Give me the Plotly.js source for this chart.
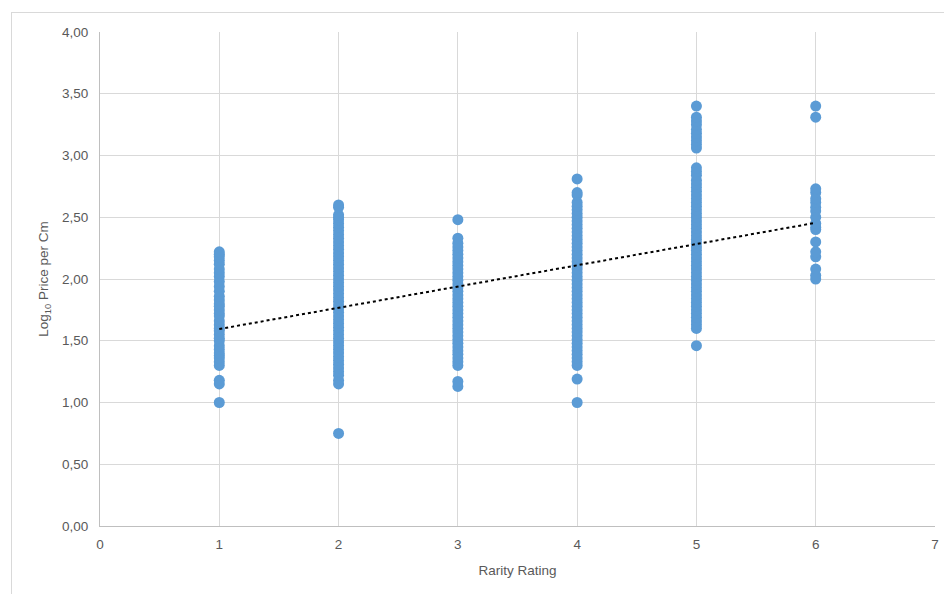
<!DOCTYPE html>
<html>
<head>
<meta charset="utf-8">
<script src="https://cdn.plot.ly/plotly-3.0.1.min.js"></script>
<style>
html,body{margin:0;padding:0;background:#fff;}
#wrap{position:relative;width:944px;height:594px;overflow:hidden;}
#frame{position:absolute;left:11px;top:12px;width:960px;height:620px;border:1px solid #d9d9d9;box-sizing:border-box;}
#chart{position:absolute;left:0;top:0;width:944px;height:594px;}
</style>
</head>
<body>
<div id="wrap"><div id="frame"></div><div id="chart"></div></div>
<script>
const rarity1 = [1.00, 1.15, 1.18, 1.30, 1.33, 1.36, 1.38, 1.40, 1.43, 1.46, 1.50, 1.52, 1.55, 1.58, 1.60, 1.63, 1.66, 1.70, 1.72, 1.75, 1.78, 1.80, 1.83, 1.86, 1.90, 1.94, 1.98, 2.02, 2.05, 2.08, 2.12, 2.15, 2.18, 2.20, 2.22];
const rarity2 = [0.75, 1.15, 1.18, 1.22, 1.25, 1.28, 1.31, 1.34, 1.37, 1.40, 1.43, 1.46, 1.49, 1.52, 1.55, 1.58, 1.61, 1.64, 1.67, 1.70, 1.73, 1.76, 1.79, 1.82, 1.85, 1.88, 1.91, 1.94, 1.97, 2.00, 2.03, 2.06, 2.09, 2.12, 2.15, 2.18, 2.21, 2.24, 2.27, 2.30, 2.33, 2.36, 2.39, 2.42, 2.45, 2.48, 2.50, 2.52, 2.58, 2.60];
const rarity3 = [1.13, 1.17, 1.30, 1.33, 1.36, 1.39, 1.42, 1.45, 1.48, 1.51, 1.54, 1.57, 1.60, 1.63, 1.66, 1.69, 1.72, 1.75, 1.78, 1.81, 1.84, 1.87, 1.90, 1.93, 1.96, 1.99, 2.02, 2.05, 2.08, 2.11, 2.14, 2.17, 2.20, 2.23, 2.26, 2.29, 2.33, 2.48];
const rarity4 = [1.00, 1.19, 1.30, 1.33, 1.36, 1.39, 1.42, 1.45, 1.48, 1.51, 1.54, 1.57, 1.60, 1.63, 1.66, 1.69, 1.72, 1.75, 1.78, 1.81, 1.84, 1.87, 1.90, 1.93, 1.96, 1.99, 2.02, 2.05, 2.08, 2.11, 2.14, 2.17, 2.20, 2.23, 2.26, 2.29, 2.32, 2.35, 2.38, 2.41, 2.44, 2.47, 2.50, 2.53, 2.56, 2.59, 2.62, 2.68, 2.70, 2.81];
const rarity5 = [1.46, 1.60, 1.63, 1.66, 1.69, 1.72, 1.75, 1.78, 1.81, 1.84, 1.87, 1.90, 1.93, 1.96, 1.99, 2.02, 2.05, 2.08, 2.11, 2.14, 2.17, 2.20, 2.23, 2.26, 2.29, 2.32, 2.35, 2.38, 2.41, 2.44, 2.47, 2.50, 2.53, 2.56, 2.59, 2.62, 2.65, 2.68, 2.71, 2.74, 2.77, 2.80, 2.84, 2.87, 2.90, 3.06, 3.09, 3.12, 3.15, 3.18, 3.21, 3.25, 3.28, 3.31, 3.40];
const rarity6 = [2.00, 2.03, 2.08, 2.18, 2.22, 2.30, 2.40, 2.42, 2.45, 2.50, 2.55, 2.58, 2.62, 2.65, 2.70, 2.73, 3.31, 3.40];
const ratings = [1, 2, 3, 4, 5, 6];
const trendX = [1, 6];
const trendY = [1.595, 2.455];
const xTicks = [0, 1, 2, 3, 4, 5, 6, 7];
const yTicks = [0, 0.5, 1, 1.5, 2, 2.5, 3, 3.5, 4];

const groups = [rarity1, rarity2, rarity3, rarity4, rarity5, rarity6];
const xs = [], ys = [];
groups.forEach((g, i) => g.forEach(v => { xs.push(ratings[i]); ys.push(v); }));

const font = {family: 'Liberation Sans, Arial, sans-serif', size: 13.5, color: '#595959'};

const traces = [
  {x: xs, y: ys, type: 'scatter', mode: 'markers', marker: {color: '#5b9bd5', size: 11}, hoverinfo: 'x+y', showlegend: false},
  {x: trendX, y: trendY, type: 'scatter', mode: 'lines', line: {color: '#000000', width: 2, dash: 'dot'}, showlegend: false}
];

const layout = {
  width: 944, height: 594,
  paper_bgcolor: 'rgba(0,0,0,0)', plot_bgcolor: '#ffffff',
  margin: {l: 100, r: 9, t: 32, b: 68},
  separators: ',.',
  font: font,
  showlegend: false,
  xaxis: {
    range: [0, 7], tickvals: xTicks, ticktext: xTicks.map(String),
    showgrid: true, gridcolor: '#d9d9d9', gridwidth: 1,
    zeroline: false, showline: true, linecolor: '#bfbfbf', linewidth: 1,
    ticks: '', tickfont: font, ticklabelstandoff: 6,
    title: {text: 'Rarity Rating', font: font, standoff: 14}
  },
  yaxis: {
    range: [0, 4], tickvals: yTicks, tickformat: '.2f',
    showgrid: true, gridcolor: '#d9d9d9', gridwidth: 1,
    zeroline: false, showline: true, linecolor: '#bfbfbf', linewidth: 1,
    ticks: '', tickfont: font, ticklabelstandoff: 8,
    title: {text: 'Log<sub>10</sub> Price per Cm', font: font, standoff: 10}
  }
};

Plotly.newPlot('chart', traces, layout, {displayModeBar: false, staticPlot: true});
</script>
</body>
</html>
